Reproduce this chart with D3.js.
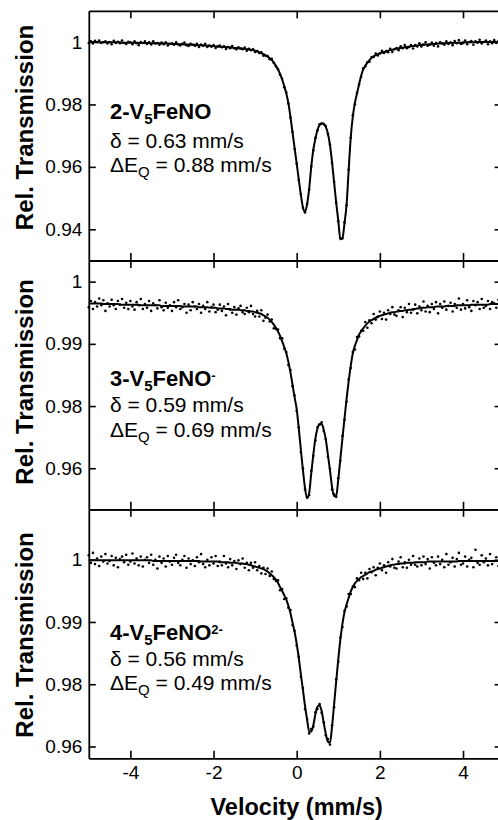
<!DOCTYPE html>
<html lang="en">
<head>
<meta charset="UTF-8">
<title>Mössbauer spectra of V5FeNO compounds</title>
<script src="https://d3js.org/d3.v7.min.js"></script>
<style>
  html, body { margin: 0; padding: 0; background: #fff; }
  svg { display: block; font-family: "Liberation Sans", Arial, sans-serif; }
  text { white-space: pre; }
</style>
</head>
<body>
<svg id="chart" width="498" height="820"></svg>
<script>
  // velocity channels (mm/s), shared by all three spectra
  const velocity = [
    -5, -4.95, -4.9, -4.85, -4.8, -4.75, -4.7, -4.65, -4.6, -4.55,
    -4.5, -4.45, -4.4, -4.35, -4.3, -4.25, -4.2, -4.15, -4.1, -4.05,
    -4, -3.95, -3.9, -3.85, -3.8, -3.75, -3.7, -3.65, -3.6, -3.55,
    -3.5, -3.45, -3.4, -3.35, -3.3, -3.25, -3.2, -3.15, -3.1, -3.05,
    -3, -2.95, -2.9, -2.85, -2.8, -2.75, -2.7, -2.65, -2.6, -2.55,
    -2.5, -2.45, -2.4, -2.35, -2.3, -2.25, -2.2, -2.15, -2.1, -2.05,
    -2, -1.95, -1.9, -1.85, -1.8, -1.75, -1.7, -1.65, -1.6, -1.55,
    -1.5, -1.45, -1.4, -1.35, -1.3, -1.25, -1.2, -1.15, -1.1, -1.05,
    -1, -0.95, -0.9, -0.85, -0.8, -0.75, -0.7, -0.65, -0.6, -0.55,
    -0.5, -0.45, -0.4, -0.35, -0.3, -0.25, -0.2, -0.15, -0.1, -0.05,
    0, 0.05, 0.1, 0.15, 0.2, 0.25, 0.3, 0.35, 0.4, 0.45,
    0.5, 0.55, 0.6, 0.65, 0.7, 0.75, 0.8, 0.85, 0.9, 0.95,
    1, 1.05, 1.1, 1.15, 1.2, 1.25, 1.3, 1.35, 1.4, 1.45,
    1.5, 1.55, 1.6, 1.65, 1.7, 1.75, 1.8, 1.85, 1.9, 1.95,
    2, 2.05, 2.1, 2.15, 2.2, 2.25, 2.3, 2.35, 2.4, 2.45,
    2.5, 2.55, 2.6, 2.65, 2.7, 2.75, 2.8, 2.85, 2.9, 2.95,
    3, 3.05, 3.1, 3.15, 3.2, 3.25, 3.3, 3.35, 3.4, 3.45,
    3.5, 3.55, 3.6, 3.65, 3.7, 3.75, 3.8, 3.85, 3.9, 3.95,
    4, 4.05, 4.1, 4.15, 4.2, 4.25, 4.3, 4.35, 4.4, 4.45,
    4.5, 4.55, 4.6, 4.65, 4.7, 4.75, 4.8, 4.85, 4.9, 4.95,
    5
  ];

  // 2-V5FeNO : fitted doublet and measured transmission
  const fit1 = [
    1, 1, 1, 1, 1, 0.9999, 0.9999, 0.9999, 0.9999, 0.9999,
    0.9999, 0.9999, 0.9999, 0.9999, 0.9999, 0.9999, 0.9998, 0.9998, 0.9998, 0.9998,
    0.9998, 0.9998, 0.9998, 0.9998, 0.9997, 0.9997, 0.9997, 0.9997, 0.9997, 0.9997,
    0.9996, 0.9996, 0.9996, 0.9996, 0.9996, 0.9995, 0.9995, 0.9995, 0.9995, 0.9994,
    0.9994, 0.9994, 0.9994, 0.9993, 0.9993, 0.9993, 0.9992, 0.9992, 0.9992, 0.9991,
    0.9991, 0.9991, 0.999, 0.999, 0.999, 0.9989, 0.9989, 0.9988, 0.9988, 0.9987,
    0.9987, 0.9986, 0.9986, 0.9985, 0.9985, 0.9984, 0.9984, 0.9983, 0.9983, 0.9982,
    0.9981, 0.9981, 0.998, 0.9979, 0.9979, 0.9978, 0.9977, 0.9976, 0.9975, 0.9974,
    0.9972, 0.997, 0.9967, 0.9964, 0.9961, 0.9957, 0.9953, 0.9948, 0.9942, 0.9934,
    0.9924, 0.9912, 0.9898, 0.988, 0.9859, 0.9835, 0.9804, 0.976, 0.971, 0.966,
    0.961, 0.956, 0.951, 0.947, 0.9456, 0.948, 0.953, 0.96, 0.9655, 0.969,
    0.9718, 0.9734, 0.974, 0.9738, 0.9728, 0.9707, 0.967, 0.9615, 0.955, 0.9485,
    0.9428, 0.9368, 0.9372, 0.942, 0.948, 0.959, 0.9695, 0.9762, 0.9805, 0.9835,
    0.9865, 0.9892, 0.9912, 0.9924, 0.9934, 0.9942, 0.9949, 0.9954, 0.9958, 0.9961,
    0.9964, 0.9966, 0.9968, 0.9969, 0.9972, 0.9974, 0.9975, 0.9977, 0.9978, 0.998,
    0.9981, 0.9982, 0.9983, 0.9984, 0.9985, 0.9986, 0.9987, 0.9988, 0.9989, 0.999,
    0.9991, 0.9991, 0.9992, 0.9992, 0.9993, 0.9993, 0.9994, 0.9994, 0.9995, 0.9995,
    0.9996, 0.9996, 0.9996, 0.9997, 0.9997, 0.9997, 0.9998, 0.9998, 0.9998, 0.9998,
    0.9999, 0.9999, 0.9999, 0.9999, 0.9999, 0.9999, 0.9999, 1, 1, 1,
    1, 1, 1, 1, 1, 1, 1, 1, 1, 1,
    1
  ];
  const obs1 = [
    0.9997, 1.0002, 0.9995, 1.0004, 0.9999, 1.0005, 0.9997, 0.9999, 1.0002, 0.9995,
    1, 0.9993, 1.0004, 0.9997, 1.0001, 0.9996, 1.0005, 0.9997, 0.9994, 1.0001,
    0.9999, 0.9993, 1.0002, 0.9996, 0.999, 1, 0.9997, 1.0002, 0.9994, 0.9999,
    0.9992, 1.0002, 0.9995, 0.9997, 0.9991, 0.9998, 0.9993, 0.9999, 0.9989, 0.9994,
    0.9996, 0.9991, 0.9999, 0.9992, 0.9989, 0.9994, 0.9998, 0.999, 0.9987, 0.9994,
    0.9991, 0.9988, 0.9994, 0.9984, 0.9992, 0.9988, 0.9994, 0.9984, 0.9989, 0.9985,
    0.999, 0.9981, 0.9986, 0.9989, 0.9983, 0.9986, 0.9978, 0.9984, 0.998, 0.9987,
    0.998, 0.9977, 0.9983, 0.9979, 0.9977, 0.9982, 0.9972, 0.9978, 0.9974, 0.9977,
    0.9968, 0.9971, 0.9965, 0.9967, 0.9956, 0.9957, 0.9955, 0.9945, 0.9946, 0.9933,
    0.9922, 0.9913, 0.9895, 0.9882, 0.9855, 0.9838, 0.9803, 0.9758, 0.9712, 0.9657,
    0.9611, 0.9558, 0.9513, 0.9469, 0.9454, 0.9482, 0.9527, 0.9601, 0.9653, 0.9693,
    0.9717, 0.9736, 0.9738, 0.9737, 0.9731, 0.9705, 0.9671, 0.9612, 0.9552, 0.9484,
    0.9426, 0.9371, 0.9371, 0.9422, 0.9477, 0.9591, 0.9693, 0.9765, 0.9801, 0.9837,
    0.9864, 0.9889, 0.9916, 0.9922, 0.9935, 0.9937, 0.9952, 0.9952, 0.9963, 0.9957,
    0.9963, 0.9972, 0.9965, 0.9971, 0.9967, 0.9978, 0.9968, 0.9977, 0.9981, 0.9974,
    0.9986, 0.998, 0.999, 0.998, 0.9984, 0.999, 0.9979, 0.999, 0.9986, 0.9996,
    0.9986, 0.9992, 0.9999, 0.9988, 0.9991, 0.9998, 0.9988, 0.9997, 0.9986, 0.9999,
    0.9995, 0.9991, 1.0002, 0.9994, 0.9999, 0.999, 1.0003, 0.9996, 1.0006, 0.9994,
    0.9996, 1.0005, 0.9993, 1, 1.0003, 0.9991, 1.0002, 0.9998, 1.0007, 0.9995,
    1, 1.0005, 0.9993, 1.0002, 0.9996, 1.0006, 0.9997, 1.0003, 0.9994, 1.0004,
    0.9998
  ];

  // 3-V5FeNO-
  const fit2 = [
    0.9965, 0.9965, 0.9965, 0.9965, 0.9965, 0.9965, 0.9965, 0.9964, 0.9964, 0.9964,
    0.9964, 0.9964, 0.9964, 0.9964, 0.9964, 0.9963, 0.9963, 0.9963, 0.9963, 0.9963,
    0.9963, 0.9963, 0.9963, 0.9963, 0.9963, 0.9962, 0.9962, 0.9962, 0.9962, 0.9962,
    0.9962, 0.9962, 0.9962, 0.9962, 0.9962, 0.9961, 0.9961, 0.9961, 0.9961, 0.9961,
    0.9961, 0.9961, 0.9961, 0.9961, 0.9961, 0.996, 0.996, 0.996, 0.996, 0.996,
    0.996, 0.996, 0.996, 0.9959, 0.9959, 0.9959, 0.9959, 0.9959, 0.9958, 0.9958,
    0.9958, 0.9958, 0.9957, 0.9957, 0.9957, 0.9957, 0.9956, 0.9956, 0.9956, 0.9955,
    0.9955, 0.9955, 0.9955, 0.9954, 0.9954, 0.9954, 0.9953, 0.9953, 0.9952, 0.9952,
    0.9951, 0.995, 0.9949, 0.9948, 0.9946, 0.9944, 0.9942, 0.9939, 0.9935, 0.9931,
    0.9926, 0.992, 0.9913, 0.9904, 0.9895, 0.9885, 0.9871, 0.9854, 0.9834, 0.9814,
    0.9795, 0.9764, 0.973, 0.9697, 0.9668, 0.9652, 0.966, 0.9692, 0.9722, 0.9748,
    0.9764, 0.9771, 0.9771, 0.9762, 0.9746, 0.9722, 0.9697, 0.967, 0.9655, 0.9656,
    0.9682, 0.9715, 0.9748, 0.978, 0.9812, 0.984, 0.9865, 0.9885, 0.9897, 0.9906,
    0.9915, 0.992, 0.9925, 0.9929, 0.9933, 0.9936, 0.9938, 0.994, 0.9942, 0.9944,
    0.9945, 0.9946, 0.9947, 0.9948, 0.9949, 0.995, 0.9951, 0.9951, 0.9952, 0.9952,
    0.9953, 0.9953, 0.9954, 0.9954, 0.9955, 0.9955, 0.9956, 0.9956, 0.9957, 0.9957,
    0.9958, 0.9958, 0.9958, 0.9959, 0.9959, 0.9959, 0.9959, 0.996, 0.996, 0.996,
    0.996, 0.996, 0.9961, 0.9961, 0.9961, 0.9961, 0.9961, 0.9962, 0.9962, 0.9962,
    0.9962, 0.9962, 0.9962, 0.9962, 0.9963, 0.9963, 0.9963, 0.9963, 0.9963, 0.9963,
    0.9963, 0.9963, 0.9963, 0.9964, 0.9964, 0.9964, 0.9964, 0.9964, 0.9964, 0.9964,
    0.9964
  ];
  const obs2 = [
    0.9959, 0.9969, 0.9956, 0.9967, 0.996, 0.9973, 0.9962, 0.997, 0.9953, 0.9965,
    0.996, 0.9971, 0.9962, 0.9956, 0.9969, 0.9963, 0.9972, 0.9958, 0.9966, 0.9956,
    0.9969, 0.996, 0.9955, 0.9967, 0.9962, 0.9972, 0.9956, 0.9964, 0.9958, 0.9969,
    0.9953, 0.9965, 0.9962, 0.9957, 0.997, 0.9959, 0.9954, 0.9966, 0.9958, 0.9962,
    0.9953, 0.9967, 0.9959, 0.997, 0.9956, 0.9959, 0.9964, 0.995, 0.9963, 0.9954,
    0.9967, 0.996, 0.9956, 0.9964, 0.995, 0.9961, 0.9956, 0.9967, 0.9952, 0.9959,
    0.9963, 0.9951, 0.9955, 0.9963, 0.9953, 0.996, 0.9946, 0.9964, 0.9955, 0.995,
    0.9959, 0.9947, 0.9957, 0.9961, 0.9951, 0.9948, 0.9958, 0.9951, 0.9961, 0.9948,
    0.9944, 0.9953, 0.9944, 0.9954, 0.9937, 0.9942, 0.9947, 0.9936, 0.9939, 0.9925,
    0.9924, 0.9923, 0.9909, 0.9909, 0.9892, 0.9887, 0.9866, 0.9858, 0.9832, 0.9817,
    0.9792, 0.9766, 0.9726, 0.97, 0.9666, 0.9653, 0.9657, 0.9696, 0.972, 0.9745,
    0.9766, 0.977, 0.9774, 0.976, 0.9747, 0.9719, 0.9699, 0.9666, 0.9658, 0.9654,
    0.9684, 0.9712, 0.9752, 0.9778, 0.9807, 0.9843, 0.9861, 0.9887, 0.9891, 0.9911,
    0.9912, 0.9921, 0.9921, 0.9935, 0.9926, 0.9938, 0.9933, 0.9948, 0.9939, 0.9943,
    0.9952, 0.994, 0.995, 0.9939, 0.9954, 0.9948, 0.9959, 0.9947, 0.9945, 0.9954,
    0.9959, 0.9943, 0.9958, 0.9951, 0.9964, 0.995, 0.9955, 0.9963, 0.9949, 0.996,
    0.9954, 0.9968, 0.9952, 0.9961, 0.9951, 0.9964, 0.9956, 0.9967, 0.9949, 0.9964,
    0.9958, 0.9968, 0.9955, 0.9961, 0.9966, 0.9952, 0.9964, 0.9958, 0.9973, 0.9955,
    0.9964, 0.9957, 0.997, 0.9959, 0.9953, 0.9969, 0.9962, 0.9967, 0.9956, 0.9972,
    0.9958, 0.9961, 0.9969, 0.9956, 0.9967, 0.9965, 0.9958, 0.9971, 0.996, 0.9969,
    0.9961
  ];

  // 4-V5FeNO2-
  const fit3 = [
    0.9999, 0.9999, 0.9999, 0.9999, 0.9999, 0.9999, 0.9999, 0.9999, 0.9999, 0.9999,
    0.9999, 0.9999, 0.9999, 0.9999, 0.9999, 0.9999, 0.9999, 0.9999, 0.9999, 0.9999,
    0.9999, 0.9999, 0.9999, 0.9999, 0.9999, 0.9999, 0.9999, 0.9999, 0.9999, 0.9999,
    0.9999, 0.9998, 0.9998, 0.9998, 0.9998, 0.9998, 0.9998, 0.9998, 0.9998, 0.9998,
    0.9998, 0.9998, 0.9998, 0.9998, 0.9998, 0.9998, 0.9998, 0.9998, 0.9998, 0.9998,
    0.9998, 0.9998, 0.9998, 0.9998, 0.9997, 0.9997, 0.9997, 0.9997, 0.9997, 0.9997,
    0.9997, 0.9997, 0.9997, 0.9996, 0.9996, 0.9996, 0.9996, 0.9996, 0.9995, 0.9995,
    0.9995, 0.9995, 0.9994, 0.9994, 0.9994, 0.9993, 0.9993, 0.9992, 0.9991, 0.999,
    0.9989, 0.9988, 0.9987, 0.9986, 0.9985, 0.9983, 0.9981, 0.9978, 0.9975, 0.9972,
    0.9968, 0.9963, 0.9956, 0.995, 0.9943, 0.9936, 0.9926, 0.9914, 0.9899, 0.9884,
    0.9865, 0.9842, 0.9816, 0.9791, 0.9765, 0.9743, 0.9724, 0.9724, 0.9734, 0.9752,
    0.9764, 0.9766, 0.9757, 0.9738, 0.972, 0.9708, 0.9706, 0.9732, 0.9768, 0.9805,
    0.984, 0.9872, 0.9897, 0.9916, 0.9928, 0.9939, 0.9949, 0.9956, 0.9962, 0.9966,
    0.9969, 0.9972, 0.9974, 0.9976, 0.9978, 0.998, 0.9981, 0.9982, 0.9984, 0.9985,
    0.9986, 0.9987, 0.9988, 0.9989, 0.999, 0.9991, 0.9992, 0.9992, 0.9993, 0.9993,
    0.9994, 0.9994, 0.9994, 0.9995, 0.9995, 0.9995, 0.9995, 0.9996, 0.9996, 0.9996,
    0.9996, 0.9996, 0.9996, 0.9997, 0.9997, 0.9997, 0.9997, 0.9997, 0.9997, 0.9997,
    0.9997, 0.9997, 0.9997, 0.9997, 0.9997, 0.9997, 0.9997, 0.9997, 0.9998, 0.9998,
    0.9998, 0.9998, 0.9998, 0.9998, 0.9998, 0.9998, 0.9998, 0.9998, 0.9998, 0.9998,
    0.9998, 0.9998, 0.9998, 0.9998, 0.9998, 0.9998, 0.9998, 0.9998, 0.9998, 0.9998,
    0.9998
  ];
  const obs3 = [
    1.0007, 0.9995, 1.0011, 0.9993, 1.0002, 0.999, 1.0005, 0.9997, 1.0009, 0.9994,
    0.9998, 1.0006, 0.9991, 1.0003, 0.9988, 1.0001, 1.0005, 0.9996, 1.0008, 0.9992,
    0.9997, 1.001, 0.9994, 1.0002, 0.9991, 1.0005, 0.9989, 1, 1.0004, 0.9995,
    1.0008, 0.9992, 1, 0.9986, 1.0005, 0.9995, 1.0002, 0.9989, 1.0006, 0.9997,
    0.9992, 1.0003, 1.0008, 0.9995, 0.9991, 1, 1.0006, 0.9987, 1.0002, 0.9993,
    0.9999, 0.999, 1.0004, 0.9996, 1.0009, 0.9993, 0.9988, 1, 0.9991, 1.0004,
    0.9994, 1.0006, 0.999, 0.9997, 0.9991, 1.0006, 0.9994, 0.9988, 1.0001, 0.9991,
    0.9998, 0.9985, 0.9999, 0.9993, 1.0002, 0.9987, 0.9995, 0.9983, 0.9995, 0.9987,
    0.9996, 0.9983, 0.999, 0.9978, 0.9987, 0.9977, 0.9986, 0.9974, 0.9981, 0.9969,
    0.9966, 0.9967, 0.9951, 0.9953, 0.9937, 0.9938, 0.9923, 0.9919, 0.9895, 0.9886,
    0.9862, 0.9844, 0.9812, 0.9794, 0.976, 0.9744, 0.9721, 0.9728, 0.9732, 0.9755,
    0.976, 0.9768, 0.9754, 0.9739, 0.9718, 0.9712, 0.9703, 0.9734, 0.9763, 0.9808,
    0.9836, 0.9875, 0.9892, 0.9918, 0.9925, 0.9945, 0.9945, 0.9957, 0.9956, 0.997,
    0.9967, 0.9979, 0.9969, 0.9979, 0.997, 0.9985, 0.998, 0.9988, 0.9975, 0.9987,
    0.9994, 0.9983, 0.9991, 0.9979, 0.9996, 0.9989, 1.0001, 0.9987, 0.9986, 0.9997,
    1.0004, 0.9988, 0.9996, 0.9987, 1, 0.9992, 1.0006, 0.9992, 0.9989, 1.0002,
    0.9991, 1.0005, 0.9993, 1.0001, 0.9986, 1.0004, 0.9995, 0.9991, 1.0005, 0.9993,
    1, 0.9988, 1.0009, 0.9992, 0.9996, 1.0003, 0.9989, 1.0001, 1.0011, 0.9992,
    0.9994, 1.0005, 0.9989, 1, 1.0003, 0.9988, 1.0016, 0.9995, 0.9992, 1.0007,
    0.9996, 1.0002, 0.9991, 1.0009, 0.9993, 0.9998, 1.0004, 0.999, 1.0001, 0.9994,
    1.0005
  ];

  // labels of the three samples and their fitted parameters
  const sampleNumbers = ["2", "3", "4"];
  const sampleCharges = ["", "-", "2-"];
  const isomerShifts = ["0.63", "0.59", "0.56"];
  const quadSplittings = ["0.88", "0.69", "0.49"];

  // axis ticks
  const xTicks = [-4, -2, 0, 2, 4];
  const xTickLabels = ["-4", "-2", "0", "2", "4"];
  const yTicksTop = [1, 0.98, 0.96, 0.94];
  const yTickLabelsTop = ["1", "0.98", "0.96", "0.94"];
  const yTicksLower = [1, 0.99, 0.98, 0.97];
  const yTickLabelsLower = ["1", "0.99", "0.98", "0.96"];

  const svg = d3.select("#chart");
  svg.append("rect").attr("width", 498).attr("height", 820).attr("fill", "#fff");

  const x = d3.scaleLinear().domain([-5, 5]).range([88.8, 504.6]);

  const panels = [
    { fit: fit1, obs: obs1, domain: [0.93, 1.01], ticks: yTicksTop, tickLabels: yTickLabelsTop,
      top: 10.8, bottom: 260.5, textY: [119, 148, 172], labelY: 127.5 },
    { fit: fit2, obs: obs2, domain: [0.9634, 1.0034], ticks: yTicksLower, tickLabels: yTickLabelsLower,
      top: 260.5, bottom: 509.3, textY: [385.5, 412.3, 437], labelY: 382 },
    { fit: fit3, obs: obs3, domain: [0.9681, 1.0081], ticks: yTicksLower, tickLabels: yTickLabelsLower,
      top: 509.3, bottom: 758.3, textY: [640, 666, 690], labelY: 635 }
  ];

  function styleAxis(g) {
    g.attr("font-family", null).attr("font-size", 19);
    g.select(".domain").attr("stroke", "#000").attr("stroke-width", 1.8);
    g.selectAll(".tick line").attr("stroke", "#000").attr("stroke-width", 1.6);
    g.selectAll(".tick text").attr("fill", "#000");
  }

  panels.forEach((p, k) => {
    const y = d3.scaleLinear().domain(p.domain).range([p.bottom, p.top]);
    const g = svg.append("g");
    const pts = velocity.map((v, i) => ({ v: v, t: p.obs[i] }));
    const curve = velocity.map((v, i) => ({ v: v, t: p.fit[i] }));

    g.selectAll("circle")
      .data(pts)
      .join("circle")
      .attr("cx", d => x(d.v))
      .attr("cy", d => y(d.t))
      .attr("r", 1.3)
      .attr("fill", "#000");

    g.append("path")
      .datum(curve)
      .attr("fill", "none")
      .attr("stroke", "#000")
      .attr("stroke-width", 2)
      .attr("d", d3.line().x(d => x(d.v)).y(d => y(d.t)).curve(d3.curveMonotoneX));

    // frame with inward ticks
    g.append("g")
      .attr("transform", `translate(${x.range()[0]},0)`)
      .call(d3.axisLeft(y).tickValues(p.ticks).tickSizeInner(-7).tickSizeOuter(0)
        .tickPadding(6.5).tickFormat((d, i) => p.tickLabels[i]))
      .call(styleAxis);
    g.append("g")
      .attr("transform", `translate(${x.range()[1]},0)`)
      .call(d3.axisRight(y).tickValues(p.ticks).tickSizeInner(-10).tickSizeOuter(0).tickFormat(""))
      .call(styleAxis);
    g.append("g")
      .attr("transform", `translate(0,${p.top})`)
      .call(d3.axisTop(x).tickValues(xTicks).tickSizeInner(-7.5).tickSizeOuter(0).tickFormat(""))
      .call(styleAxis);
    g.append("g")
      .attr("transform", `translate(0,${p.bottom})`)
      .call(d3.axisBottom(x).tickValues(xTicks).tickSizeInner(-7.5).tickSizeOuter(0).tickPadding(7.2)
        .tickFormat((d, i) => k === 2 ? xTickLabels[i] : ""))
      .call(styleAxis);

    // y title
    g.append("text")
      .attr("transform", `translate(33,${p.labelY}) rotate(-90)`)
      .attr("text-anchor", "middle")
      .attr("font-weight", "bold")
      .attr("font-size", 24)
      .text("Rel. Transmission");

    // sample annotation
    const name = g.append("text")
      .attr("x", 110).attr("y", p.textY[0])
      .attr("font-weight", "bold").attr("font-size", 22);
    name.append("tspan").text(sampleNumbers[k] + "-V");
    name.append("tspan").attr("font-size", 15).attr("dy", 5).text("5");
    name.append("tspan").attr("dy", -5).text("FeNO");
    if (sampleCharges[k]) {
      name.append("tspan").attr("font-size", 13).attr("dy", -6).text(sampleCharges[k]);
    }

    g.append("text")
      .attr("x", 110).attr("y", p.textY[1])
      .attr("font-size", 21)
      .text(`δ = ${isomerShifts[k]} mm/s`);

    const eq = g.append("text")
      .attr("x", 110).attr("y", p.textY[2])
      .attr("font-size", 21);
    eq.append("tspan").text("ΔE");
    eq.append("tspan").attr("font-size", 15).attr("dy", 5).text("Q");
    eq.append("tspan").attr("dy", -5).text(` = ${quadSplittings[k]} mm/s`);
  });

  svg.append("text")
    .attr("x", x(0))
    .attr("y", 815)
    .attr("text-anchor", "middle")
    .attr("font-weight", "bold")
    .attr("font-size", 23.5)
    .text("Velocity (mm/s)");
</script>
</body>
</html>
